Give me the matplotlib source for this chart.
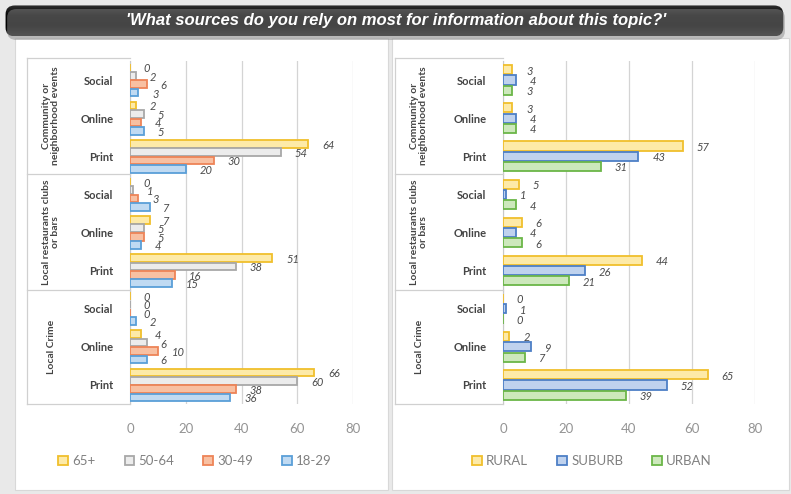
import numpy as np
import matplotlib
matplotlib.use('Agg')
import matplotlib.pyplot as plt
from matplotlib.patches import FancyBboxPatch, Rectangle, Patch
from matplotlib.lines import Line2D
from matplotlib.colors import LinearSegmentedColormap

# === Data ===
groups = ['Community or\nneighborhood events', 'Local restaurants clubs\nor bars', 'Local Crime']
sources = ['Social', 'Online', 'Print']

age_labels = ['65+', '50-64', '30-49', '18-29']
age_65 = [0, 2, 64, 0, 7, 51, 0, 4, 66]
age_50 = [2, 5, 54, 1, 5, 38, 0, 6, 60]
age_30 = [6, 4, 30, 3, 5, 16, 0, 10, 38]
age_18 = [3, 5, 20, 7, 4, 15, 2, 6, 36]

area_labels = ['RURAL', 'SUBURB', 'URBAN']
rural = [3, 3, 57, 5, 6, 44, 0, 2, 65]
suburb = [4, 4, 43, 1, 4, 26, 1, 9, 52]
urban = [3, 4, 31, 4, 6, 21, 0, 7, 39]

x_ticks = [0, 20, 40, 60, 80]

title = "'What sources do you rely on most for information about this topic?'"

# colours (edge, fill)
age_colors = [('#f0bf2c', '#fdeaa8'), ('#a8a8a8', '#ececec'),
              ('#ee8457', '#f8c0a2'), ('#5a9fd8', '#c0daf2')]
area_colors = [('#f0bf2c', '#fdeaa8'), ('#4d7fc6', '#bfd2ee'), ('#6bb648', '#cde8bc')]

W, H = 791, 494
fig = plt.figure(figsize=(W / 100, H / 100), dpi=100)
fig.patch.set_facecolor('#e9e9e9')

FONT = ['Lato', 'DejaVu Sans']


def px(x0, y0, x1, y1):
    # pixel box (top-left origin) -> figure fraction rect
    return [x0 / W, 1 - y1 / H, (x1 - x0) / W, (y1 - y0) / H]


# white panels
for (a, b) in [(15, 388), (392, 789)]:
    fig.patches.append(Rectangle((a / W, 4 / H), (b - a) / W, 1 - 42 / H,
                                 transform=fig.transFigure, facecolor='white',
                                 edgecolor='#d8d8d8', lw=0.8, zorder=-5))

# === Title bar ===
tax = fig.add_axes(px(4, 4, 788, 40))
tax.set_xlim(0, 1)
tax.set_ylim(0, 1)
tax.axis('off')
shadow = FancyBboxPatch((0.004, 0.0), 0.992, 0.86, boxstyle='round,pad=0,rounding_size=0.012',
                        mutation_aspect=20, transform=tax.transAxes, facecolor='#8a8a8a',
                        edgecolor='none', alpha=0.5)
tax.add_patch(shadow)
bar_patch = FancyBboxPatch((0.002, 0.1), 0.992, 0.86, boxstyle='round,pad=0,rounding_size=0.012',
                           mutation_aspect=20, transform=tax.transAxes, facecolor='none',
                           edgecolor='none')
tax.add_patch(bar_patch)
grad = np.linspace(0, 1, 50).reshape(-1, 1)
cm = LinearSegmentedColormap.from_list('tb', ['#2e2e2e', '#050505', '#000000', '#1c1c1c'])
im = tax.imshow(grad, extent=[0, 1, 0.1, 0.96], aspect='auto', cmap=cm, origin='upper')
im.set_clip_path(bar_patch)
tax.text(0.5, 0.55, title, ha='center', va='center', color='white', fontsize=12,
         fontweight='bold', fontstyle='italic', family=['Liberation Sans', 'DejaVu Sans'])


def draw_panel(label_x0, ax_x0, ax_x1, series, colors, labels, legend_cx):
    ax = fig.add_axes(px(ax_x0, 61, ax_x1, 404))
    n = len(series)
    pitch = 0.22 if n == 4 else 0.27
    hgt = 0.2 if n == 4 else 0.24
    ypos = np.arange(9)
    for k, vals in enumerate(series):
        off = (k - (n - 1) / 2) * pitch
        ax.barh(ypos + off, vals, height=hgt, color=colors[k][1],
                edgecolor=colors[k][0], lw=1.3, zorder=3)
        for y, v in zip(ypos, vals):
            ax.annotate(str(v), xy=(v, y + off), xytext=(10, -1), textcoords='offset points',
                        ha='left', va='center', fontsize=8, fontstyle='italic',
                        color='#4a4a4a', family=FONT, zorder=4)
    ax.set_xlim(0, 80)
    ax.set_ylim(8.5, -0.5)
    ax.set_xticks(x_ticks)
    ax.set_xticklabels([str(t) for t in x_ticks], color='#949494', fontsize=9.5, family=FONT)
    ax.tick_params(axis='x', length=0, pad=14)
    ax.set_yticks(ypos)
    ax.set_yticklabels(sources * 3, fontsize=8, fontweight='bold', color='#444444', family=FONT)
    ax.tick_params(axis='y', length=0, pad=12)
    ax.grid(axis='x', color='#d4d4d4', lw=0.9, zorder=0)
    for s in ['top', 'right', 'bottom']:
        ax.spines[s].set_visible(False)
    ax.spines['left'].set_color('#c8c8c8')
    ax.set_facecolor('none')

    # category label box
    lx0 = label_x0 / W
    ax0 = ax_x0 / W
    box_lines = [((lx0, ax0), (1 - 58 / H, 1 - 58 / H)),
                 ((lx0, ax0), (1 - 404 / H, 1 - 404 / H)),
                 ((lx0, lx0), (1 - 58 / H, 1 - 404 / H)),
                 ((lx0, ax0), (1 - 174 / H, 1 - 174 / H)),
                 ((lx0, ax0), (1 - 290 / H, 1 - 290 / H))]
    for xs, ys in box_lines:
        fig.add_artist(Line2D(xs, ys, transform=fig.transFigure, color='#d0d0d0', lw=0.9))
    # group labels
    centers = [116, 232, 347]
    for g, cy in zip(groups, centers):
        fig.text((label_x0 + 24) / W, 1 - cy / H, g, rotation=90, ha='center', va='center',
                 fontsize=7.5, fontweight='bold', color='#444444', family=FONT,
                 linespacing=1.0, multialignment='center')

    handles = [Patch(facecolor=c[1], edgecolor=c[0], lw=1.3) for c in colors]
    fig.legend(handles, labels, loc='center', bbox_to_anchor=(legend_cx / W, 1 - 461 / H),
               ncol=len(labels), frameon=False, handlelength=0.75,
               handleheight=0.75, handletextpad=0.3, columnspacing=2.2,
               labelcolor='#808080', prop={'family': FONT, 'size': 9.5})
    return ax


draw_panel(27, 130, 353, [age_65, age_50, age_30, age_18], age_colors, age_labels, 195)
draw_panel(395, 503, 755, [rural, suburb, urban], area_colors, area_labels, 592)

plt.savefig('out.png', dpi=100, facecolor=fig.get_facecolor())
